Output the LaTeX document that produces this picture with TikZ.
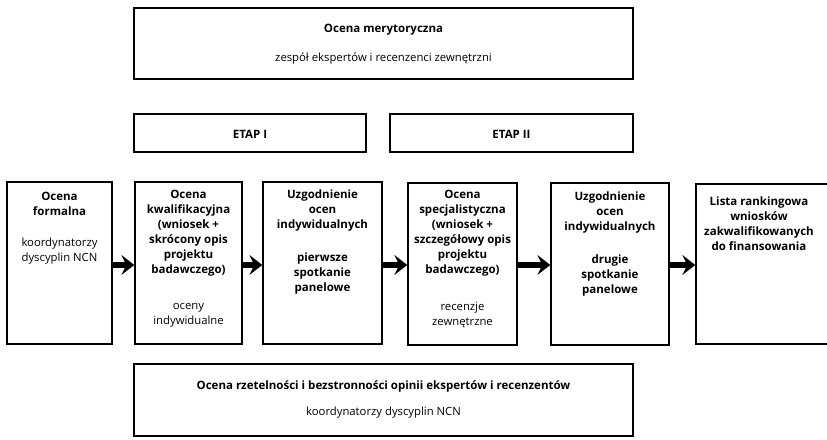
\documentclass[tikz,border=0pt]{standalone}
\usepackage{fontspec}
\setmainfont{Open Sans}
\usetikzlibrary{arrows.meta}
\tikzset{
  boxx/.style={draw, line width=1.4pt, inner sep=0pt},
  txt/.style={align=center, inner sep=0pt, font=\fontsize{11.3}{15}\selectfont},
  btxt/.style={txt, font=\fontsize{11.5}{15}\selectfont\bfseries},
  flow/.style={line width=6.5pt, -{Stealth[length=13pt,width=20pt,inset=5pt]}}
}
\newcommand{\mybox}[5]{% name, left, top, right, bottom
  \node[boxx, minimum width={(#4-#2)*1pt}, minimum height={(#5-#3)*1pt}] (#1) at ({(#2+#4)/2},{(#3+#5)/2}) {};}
\begin{document}
\begin{tikzpicture}[x=1pt,y=-1pt]
\useasboundingbox (0,0) rectangle (827,439);
\mybox{top}{134}{8}{633}{79}
\mybox{e1}{134}{114}{366}{152}
\mybox{e2}{390}{114}{633}{152}
\mybox{b1}{7}{182}{112}{344}
\mybox{b2}{135}{182}{242}{344}
\mybox{b3}{263}{182}{382}{344}
\mybox{b4}{408}{183}{517}{345}
\mybox{b5}{551}{183}{669}{345}
\mybox{b6}{696}{184}{840}{344}
\mybox{bot}{134}{364}{633}{436}

\node[btxt] (topt) at (383.5,30) {Ocena merytoryczna};
\node[txt] (tops) at (383.5,59) {zespół ekspertów i recenzenci zewnętrzni};
\node[btxt] (e1t) at (250,134) {ETAP I};
\node[btxt] (e2t) at (511.5,134) {ETAP II};

\node[btxt] (b1t) at (59.5,203.5) {Ocena\\formalna};
\node[txt] (b1s) at (59.5,251) {koordynatorzy\\dyscyplin NCN};

\node[btxt] (b2t) at (188.5,233.5) {Ocena\\kwalifikacyjna\\(wniosek +\\skrócony opis\\projektu\\badawczego)};
\node[txt] (b2s) at (188.5,315) {oceny\\indywidualne};

\node[btxt] (b3t) at (322.5,211) {Uzgodnienie\\ocen\\indywidualnych};
\node[btxt] (b3s) at (322.5,274) {pierwsze\\spotkanie\\panelowe};

\node[btxt] (b4t) at (462.5,233.5) {Ocena\\specjalistyczna\\(wniosek +\\szczegółowy opis\\projektu\\badawczego)};
\node[txt] (b4s) at (462.5,315) {recenzje\\zewnętrzne};

\node[btxt] (b5t) at (610,213) {Uzgodnienie\\ocen\\indywidualnych};
\node[btxt] (b5s) at (610,276) {drugie\\spotkanie\\panelowe};

\node[btxt] (b6t) at (759,223.5) {Lista rankingowa\\wniosków\\zakwalifikowanych\\do finansowania};

\node[btxt] (bott) at (383.5,386) {Ocena rzetelności i bezstronności opinii ekspertów i recenzentów};
\node[txt] (bots) at (383.5,413) {koordynatorzy dyscyplin NCN};

\draw[flow] (b1.east |- 0,265) -- (b2.west |- 0,265);
\draw[flow] (b2.east |- 0,265) -- (b3.west |- 0,265);
\draw[flow] (b3.east |- 0,265) -- (b4.west |- 0,265);
\draw[flow] (b4.east |- 0,265) -- (b5.west |- 0,265);
\draw[flow] (b5.east |- 0,265) -- (b6.west |- 0,265);
\end{tikzpicture}
\end{document}
